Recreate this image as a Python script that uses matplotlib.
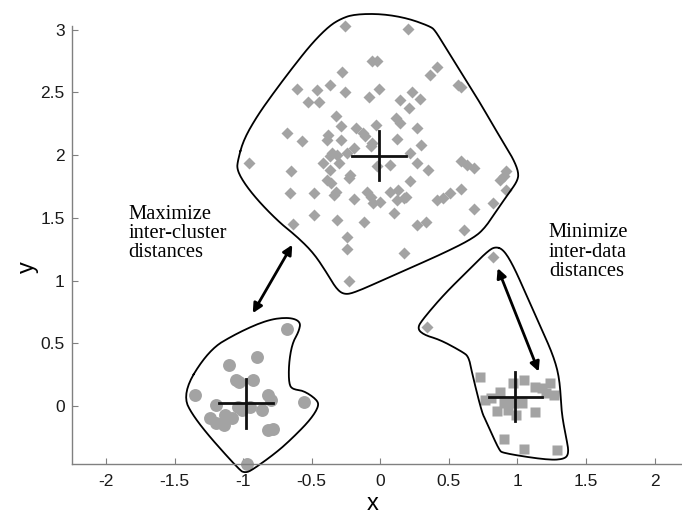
import matplotlib
matplotlib.use("Agg")
import matplotlib.pyplot as plt
import numpy as np

# cluster points
diam_x = [-0.255, 0.2, -0.06, -0.025, 0.36, 0.41, -0.28, -0.61, -0.46, -0.37, -0.26, -0.007, -0.08,
          -0.53, -0.45, 0.57, 0.59, 0.145, 0.23, 0.29, 0.21, -0.325, -0.29, 0.116, 0.145, -0.175,
          -0.126, -0.11, -0.03, 0.27, -0.68, -0.57, -0.38, -0.39, -0.29, 0.12, -0.06, -0.07, 0.30,
          -0.19, -0.24, -0.35, -0.37, -0.315, 0.22, -0.96, -0.42, -0.30, -0.025, 0.07, 0.27, -0.65,
          -0.37, 0.35, 0.59, 0.635, 0.68, 0.92, 0.90, 0.87, -0.22, -0.23, -0.39, -0.36, 0.22, -0.66,
          -0.48, -0.32, -0.34, -0.10, -0.07, 0.0, -0.19, -0.05, 0.07, 0.13, 0.17, 0.12, 0.19, 0.41,
          0.46, 0.51, 0.59, 0.92, 0.82, 0.68, -0.48, -0.315, -0.12, 0.10, 0.27, 0.33, -0.635, 0.61,
          -0.24, -0.24, 0.175, -0.225, 0.82, 0.34]
diam_y = [3.03, 3.01, 2.75, 2.75, 2.64, 2.70, 2.66, 2.53, 2.52, 2.56, 2.50, 2.53, 2.46,
          2.42, 2.42, 2.56, 2.54, 2.44, 2.50, 2.45, 2.38, 2.31, 2.23, 2.30, 2.26, 2.22,
          2.18, 2.15, 2.24, 2.22, 2.18, 2.11, 2.16, 2.12, 2.12, 2.13, 2.10, 2.07, 2.08,
          2.06, 2.02, 2.02, 1.99, 2.00, 2.02, 1.94, 1.94, 1.94, 1.91, 1.92, 1.94, 1.87,
          1.88, 1.88, 1.95, 1.92, 1.90, 1.87, 1.83, 1.80, 1.84, 1.82, 1.80, 1.78, 1.79, 1.70,
          1.70, 1.71, 1.68, 1.71, 1.67, 1.63, 1.65, 1.62, 1.71, 1.72, 1.66, 1.64, 1.67, 1.64,
          1.66, 1.70, 1.73, 1.72, 1.62, 1.57, 1.52, 1.48, 1.47, 1.54, 1.44, 1.47, 1.45, 1.40,
          1.35, 1.25, 1.22, 1.00, 1.19, 0.63]

sq_x = [0.727, 0.97, 1.05, 1.13, 1.18, 1.24, 0.87, 0.76, 0.81, 0.90, 0.97, 1.03, 1.21, 1.27,
        0.85, 0.93, 0.99, 1.13, 0.90, 1.05, 1.285]
sq_y = [0.234, 0.18, 0.21, 0.15, 0.14, 0.18, 0.11, 0.05, 0.06, 0.02, 0.02, 0.02, 0.10, 0.09,
        -0.04, -0.03, -0.07, -0.05, -0.26, -0.34, -0.35]

circ_x = [-0.68, -0.90, -1.10, -1.05, -1.03, -0.93, -1.35, -0.82, -0.80, -1.20, -0.56, -1.04,
          -1.01, -0.95, -0.86, -1.13, -1.08, -1.24, -1.20, -1.14, -0.82, -0.78, -0.975]
circ_y = [0.61, 0.39, 0.33, 0.21, 0.19, 0.21, 0.09, 0.09, 0.05, 0.01, 0.03, -0.01,
          -0.03, -0.01, -0.03, -0.07, -0.10, -0.10, -0.14, -0.15, -0.19, -0.18, -0.465]

# centroids (crosses)
cent_x = [-0.01, -0.98, 0.985]
cent_y = [1.995, 0.02, 0.075]

# cluster outlines
top_outline = [(-1.038, 1.963), (-0.997, 2.123), (-0.900, 2.309), (-0.779, 2.496), (-0.633, 2.708),
               (-0.497, 2.894), (-0.376, 3.027), (-0.291, 3.086), (-0.194, 3.123), (0.0, 3.128),
               (0.194, 3.094), (0.364, 3.027), (0.40, 2.995), (0.485, 2.841), (0.608, 2.628),
               (0.728, 2.416), (0.827, 2.229), (0.90, 2.096), (0.973, 1.963), (1.01, 1.857),
               (0.998, 1.79), (0.937, 1.697), (0.852, 1.564), (0.754, 1.405), (0.657, 1.325),
               (0.462, 1.219), (0.243, 1.112), (0.024, 1.006), (-0.17, 0.912), (-0.255, 0.886),
               (-0.316, 0.926), (-0.389, 1.059), (-0.486, 1.219), (-0.608, 1.351), (-0.73, 1.458),
               (-0.876, 1.618), (-0.985, 1.764), (-1.046, 1.883)]
left_outline = [(-1.447, 0.101), (-1.25, 0.447), (-1.046, 0.58), (-0.826, 0.686), (-0.667, 0.708),
                (-0.58, 0.673), (-0.594, 0.593), (-0.642, 0.50), (-0.667, 0.34), (-0.667, 0.18),
                (-0.642, 0.133), (-0.558, 0.122), (-0.46, 0.048), (-0.449, -0.005), (-0.51, -0.11),
                (-0.63, -0.245), (-0.75, -0.365), (-0.94, -0.516), (-0.985, -0.532),
                (-1.025, -0.516), (-1.353, -0.11)]
right_outline = [(0.839, 1.271), (0.90, 1.245), (0.973, 1.112), (1.07, 0.872), (1.168, 0.633),
                 (1.265, 0.393), (1.309, 0.207), (1.321, -0.058), (1.359, -0.27), (1.375, -0.377),
                 (1.343, -0.425), (1.216, -0.431), (0.896, -0.377), (0.865, -0.351),
                 (0.769, -0.112), (0.742, -0.058), (0.669, 0.261), (0.645, 0.393), (0.596, 0.433),
                 (0.438, 0.527), (0.316, 0.567), (0.268, 0.62), (0.316, 0.70), (0.462, 0.886),
                 (0.633, 1.072), (0.779, 1.231)]

# double arrows: (start, end)
arrows = [((-0.93, 0.74), (-0.642, 1.285)), ((1.155, 0.274), (0.856, 1.099))]

xticks = [-2, -1.5, -1, -0.5, 0, 0.5, 1, 1.5, 2]
yticks = [0, 0.5, 1, 1.5, 2, 2.5, 3]


def chaikin(pts, n=3):
    # round off the traced corners
    p = np.array(pts, dtype=float)
    for _ in range(n):
        q = np.roll(p, -1, axis=0)
        p = np.column_stack([0.75 * p + 0.25 * q, 0.25 * p + 0.75 * q]).reshape(-1, 2)
    return np.vstack([p, p[:1]])


gray = '#a3a3a3'
fig = plt.figure(figsize=(6.82, 5.16), dpi=100)
ax = fig.add_axes([0.106, 0.1008, 0.894, 0.8488])

ax.plot(diam_x, diam_y, 'D', ms=6.2, color=gray, mec='none', clip_on=False)
ax.plot(sq_x, sq_y, 's', ms=7, color=gray, mec='none', clip_on=False)
ax.plot(circ_x, circ_y, 'o', ms=9.3, color=gray, mec='none', clip_on=False)

for ol in [top_outline, left_outline, right_outline]:
    c = chaikin(ol)
    ax.plot(c[:, 0], c[:, 1], color='black', lw=1.3, clip_on=False)

for cx, cy in zip(cent_x, cent_y):
    ax.plot([cx - 0.195, cx + 0.195], [cy, cy], color='#111111', lw=2, clip_on=False)
    ax.plot([cx, cx], [cy - 0.195, cy + 0.195], color='#111111', lw=2, clip_on=False)

for a, b in arrows:
    ax.annotate('', xy=b, xytext=a,
                arrowprops=dict(arrowstyle='<|-|>', lw=2, color='black',
                                mutation_scale=14, shrinkA=0, shrinkB=0))

ax.text(-1.837, 1.187, 'Maximize\ninter-cluster\ndistances', family='Liberation Serif',
        fontsize=14.8, va='baseline', ha='left', linespacing=1.02)
ax.text(1.229, 1.037, 'Minimize\ninter-data\ndistances', family='Liberation Serif',
        fontsize=14.8, va='baseline', ha='left', linespacing=1.02)

ax.set_xlim(-2.246, 2.2)
ax.set_ylim(-0.463, 3.03)
ax.set_xticks(xticks)
ax.set_yticks(yticks)
ax.set_xticklabels([f'{t:g}' for t in xticks])
ax.set_yticklabels([f'{t:g}' for t in yticks])
for s in ['top', 'right']:
    ax.spines[s].set_visible(False)
for s in ['left', 'bottom']:
    ax.spines[s].set_color('#808080')
    ax.spines[s].set_linewidth(1)
ax.tick_params(direction='in', length=4, color='#808080', labelsize=12.5,
               labelcolor='#1a1a1a')
ax.tick_params(axis='x', pad=7)
ax.tick_params(axis='y', pad=5.5)
for lab in ax.get_xticklabels() + ax.get_yticklabels():
    lab.set_family('Liberation Sans')

ax.set_xlabel('x', family='Liberation Sans', fontsize=17, va='center')
ax.set_ylabel('y', family='Liberation Sans', fontsize=17, va='center')
ax.xaxis.set_label_coords(0.493, -0.092)
ax.yaxis.set_label_coords(-0.072, 0.449)

fig.savefig('out.png', dpi=100)
